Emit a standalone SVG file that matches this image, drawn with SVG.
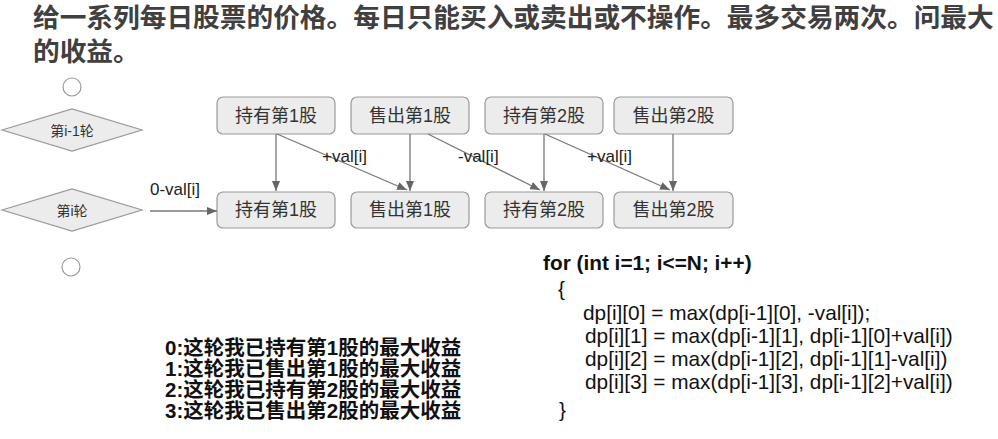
<svg xmlns="http://www.w3.org/2000/svg" width="998" height="439" viewBox="0 0 998 439">
<defs>
<style>
.title{font-family:"Liberation Sans","Noto Sans CJK SC",sans-serif;font-size:26.7px;font-weight:bold;fill:#404040}
.box{fill:#ececec;stroke:#9a9a9a;stroke-width:1.2}
.dia{fill:#ececec;stroke:#9a9a9a;stroke-width:1.2}
.circ{fill:#fff;stroke:#9a9a9a;stroke-width:1.2}
.nt{font-family:"Liberation Sans","Noto Sans CJK SC",sans-serif;font-size:18px;fill:#333;text-anchor:middle}
.dt{font-family:"Liberation Sans","Noto Sans CJK SC",sans-serif;font-size:14px;fill:#333;text-anchor:middle}
.lab{font-family:"Liberation Sans","Noto Sans CJK SC",sans-serif;font-size:17px;fill:#222}
.conn{stroke:#777;stroke-width:1.3;fill:none;marker-end:url(#ah)}
.leg{font-family:"Liberation Sans","Noto Sans CJK SC",sans-serif;font-size:20.5px;font-weight:bold;fill:#111}
.code{font-family:"Liberation Sans",sans-serif;font-size:20.8px;fill:#111}
</style>
<marker id="ah" markerWidth="10" markerHeight="8" refX="10" refY="4" orient="auto" markerUnits="userSpaceOnUse">
<path d="M0,0 L10,4 L0,8 Z" fill="#666"/>
</marker>
</defs>
<rect width="998" height="439" fill="#fff"/>
<g id="title">
<text class="title" x="33" y="27">给一系列每日股票的价格。每日只能买入或卖出或不操作。最多交易两次。问最大</text>
<text class="title" x="33" y="61">的收益。</text>
</g>
<g id="circle-top"><circle class="circ" cx="72" cy="87" r="9"/></g>
<g id="round-prev"><polygon class="dia" points="2,130 72,109 142,130 72,151"/><text class="dt" x="72" y="136">第i-1轮</text></g>
<g id="round-cur"><polygon class="dia" points="2,210 72,189 142,210 72,231"/><text class="dt" x="72" y="216">第i轮</text></g>
<g id="circle-bottom"><circle class="circ" cx="71" cy="267" r="9"/></g>
<g id="p-hold1"><rect class="box" x="217" y="97" width="118" height="37" rx="6"/><text class="nt" x="276" y="122">持有第1股</text></g>
<g id="p-sell1"><rect class="box" x="351" y="97" width="118" height="37" rx="6"/><text class="nt" x="410" y="122">售出第1股</text></g>
<g id="p-hold2"><rect class="box" x="485" y="97" width="118" height="37" rx="6"/><text class="nt" x="544" y="122">持有第2股</text></g>
<g id="p-sell2"><rect class="box" x="614" y="97" width="119" height="37" rx="6"/><text class="nt" x="673.5" y="122">售出第2股</text></g>
<g id="c-hold1"><rect class="box" x="217" y="192" width="118" height="36" rx="6"/><text class="nt" x="276" y="216">持有第1股</text></g>
<g id="c-sell1"><rect class="box" x="351" y="192" width="118" height="36" rx="6"/><text class="nt" x="410" y="216">售出第1股</text></g>
<g id="c-hold2"><rect class="box" x="485" y="192" width="118" height="36" rx="6"/><text class="nt" x="544" y="216">持有第2股</text></g>
<g id="c-sell2"><rect class="box" x="614" y="192" width="119" height="36" rx="6"/><text class="nt" x="673.5" y="216">售出第2股</text></g>
<g id="connectors">
<line class="conn" x1="276" y1="134" x2="276" y2="191"/>
<line class="conn" x1="410" y1="134" x2="410" y2="191"/>
<line class="conn" x1="544" y1="134" x2="544" y2="191"/>
<line class="conn" x1="673" y1="134" x2="673" y2="191"/>
<line class="conn" x1="277" y1="134" x2="407" y2="190"/>
<line class="conn" x1="428" y1="134" x2="540" y2="190"/>
<line class="conn" x1="545" y1="134" x2="670" y2="190"/>
<line class="conn" x1="150" y1="211" x2="217" y2="211"/>
<text class="lab" x="322" y="162">+val[i]</text>
<text class="lab" x="458" y="162">-val[i]</text>
<text class="lab" x="587" y="162">+val[i]</text>
<text class="lab" x="150" y="195">0-val[i]</text>
</g>
<g id="legend">
<text class="leg" x="165" y="355">0:这轮我已持有第1股的最大收益</text>
<text class="leg" x="165" y="376">1:这轮我已售出第1股的最大收益</text>
<text class="leg" x="165" y="397">2:这轮我已持有第2股的最大收益</text>
<text class="leg" x="165" y="418">3:这轮我已售出第2股的最大收益</text>
</g>
<g id="code">
<text class="code" x="543" y="270" font-weight="bold">for (int i=1; i&lt;=N; i++)</text>
<text class="code" x="558" y="296">{</text>
<text class="code" x="583" y="320">dp[i][0] = max(dp[i-1][0], -val[i]);</text>
<text class="code" x="585" y="343">dp[i][1] = max(dp[i-1][1], dp[i-1][0]+val[i])</text>
<text class="code" x="585" y="366">dp[i][2] = max(dp[i-1][2], dp[i-1][1]-val[i])</text>
<text class="code" x="585" y="389">dp[i][3] = max(dp[i-1][3], dp[i-1][2]+val[i])</text>
<text class="code" x="559" y="417">}</text>
</g>
</svg>
